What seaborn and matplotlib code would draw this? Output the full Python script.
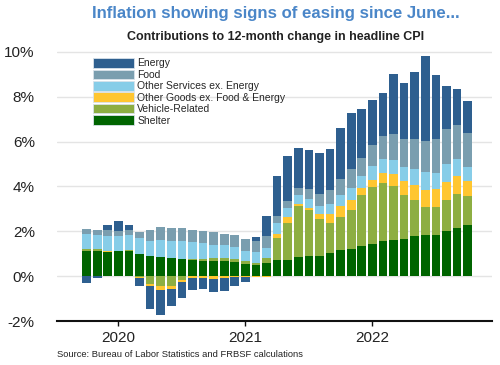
import numpy as np
import pandas as pd
import seaborn as sns
import matplotlib.pyplot as plt
from matplotlib.patches import Patch
from matplotlib.ticker import FuncFormatter

# Monthly contributions (percentage points), Oct 2019 - Oct 2022
months = pd.date_range('2019-10-01', '2022-10-01', freq='MS').strftime('%Y-%m').tolist()

shelter = [1.12, 1.12, 1.07, 1.10, 1.10, 1.00, 0.88, 0.85, 0.82, 0.77, 0.74, 0.67, 0.67,
           0.67, 0.63, 0.55, 0.51, 0.58, 0.70, 0.73, 0.85, 0.92, 0.92, 1.04, 1.15, 1.23,
           1.36, 1.44, 1.55, 1.62, 1.67, 1.77, 1.82, 1.85, 2.01, 2.16, 2.26]
vehicle = [0.09, 0.07, 0.01, 0.03, 0.06, -0.04, -0.34, -0.46, -0.43, -0.19, 0.04, 0.09, 0.14,
           0.15, 0.15, 0.12, 0.09, 0.24, 0.98, 1.64, 2.29, 2.01, 1.61, 1.35, 1.49, 1.70,
           2.26, 2.53, 2.60, 2.38, 1.93, 1.61, 1.26, 1.24, 1.40, 1.52, 1.32]
other_goods = [0.00, 0.00, 0.04, 0.01, 0.00, -0.03, -0.12, -0.15, -0.12, -0.09, -0.10, -0.09, -0.12,
               -0.08, -0.05, -0.04, -0.04, -0.02, 0.18, 0.27, 0.09, 0.10, 0.22, 0.39, 0.48, 0.45,
               0.32, 0.33, 0.45, 0.57, 0.63, 0.67, 0.77, 0.79, 0.79, 0.77, 0.65]
other_services = [0.65, 0.64, 0.67, 0.67, 0.68, 0.70, 0.71, 0.77, 0.77, 0.79, 0.74, 0.70, 0.60,
                  0.55, 0.52, 0.45, 0.48, 0.45, 0.51, 0.39, 0.37, 0.42, 0.40, 0.42, 0.48, 0.54,
                  0.52, 0.60, 0.61, 0.63, 0.64, 0.71, 0.79, 0.73, 0.79, 0.79, 0.65]
food = [0.25, 0.25, 0.25, 0.22, 0.24, 0.27, 0.49, 0.57, 0.55, 0.58, 0.56, 0.55, 0.55,
        0.52, 0.55, 0.52, 0.51, 0.51, 0.33, 0.31, 0.34, 0.45, 0.52, 0.63, 0.73, 0.85,
        0.83, 0.94, 1.04, 1.16, 1.26, 1.34, 1.38, 1.49, 1.56, 1.52, 1.50]
energy = [-0.31, -0.06, 0.25, 0.43, 0.19, -0.36, -1.01, -1.12, -0.77, -0.68, -0.52, -0.50, -0.57,
          -0.57, -0.37, -0.20, 0.15, 0.91, 1.76, 2.02, 1.77, 1.74, 1.83, 1.83, 2.26, 2.51,
          2.16, 2.01, 1.93, 2.66, 2.50, 3.01, 3.81, 2.87, 1.95, 1.59, 1.41]

year_labels = ['2020', '2021', '2022']
year_months = ['2020-01', '2021-01', '2022-01']

df = pd.DataFrame({'month': months, 'Shelter': shelter, 'Vehicle-Related': vehicle,
                   'Other Goods ex. Food & Energy': other_goods,
                   'Other Services ex. Energy': other_services,
                   'Food': food, 'Energy': energy})

# stacking order bottom -> top
layers = [('Shelter', '#006400'),
          ('Vehicle-Related', '#8DAE42'),
          ('Other Goods ex. Food & Energy', '#FFC630'),
          ('Other Services ex. Energy', '#87CDE8'),
          ('Food', '#7A9EAF'),
          ('Energy', '#2E5F8F')]

sns.set_theme(style='white')
plt.rcParams['font.family'] = ['Liberation Sans', 'DejaVu Sans']

fig = plt.figure(figsize=(5, 3.65), dpi=100)
ax = fig.add_axes([0.114, 0.1205, 0.87, 0.7465])

pos = np.zeros(len(df))
neg = np.zeros(len(df))
for name, col in layers:
    vals = df[name].to_numpy()
    base = np.where(vals >= 0, pos, neg)
    sns.barplot(data=df, x='month', y=name, order=months, bottom=base, color=col,
                saturation=1, width=0.82, errorbar=None, linewidth=0, ax=ax)
    pos += np.clip(vals, 0, None)
    neg += np.clip(vals, None, 0)

ax.set_xlim(-2.8, 38.3)
ax.set_ylim(-2, 10.15)
ax.set_yticks([-2, 0, 2, 4, 6, 8, 10])
ax.yaxis.set_major_formatter(FuncFormatter(lambda v, _: f'{int(v)}%'))
ax.set_xticks([months.index(m) for m in year_months])
ax.set_xticklabels(year_labels)
ax.set_xlabel('')
ax.set_ylabel('')

ax.yaxis.grid(True, color='#e4e4e4', linewidth=1)
ax.set_axisbelow(True)
for s in ['left', 'top', 'right']:
    ax.spines[s].set_visible(False)
ax.spines['bottom'].set_color('#111111')
ax.spines['bottom'].set_linewidth(1.5)
ax.tick_params(axis='y', left=False, labelsize=11, pad=10, colors='#222222')
ax.tick_params(axis='x', bottom=True, length=3.5, width=1, color='#111111',
               labelsize=11, pad=4, labelcolor='#222222')

handles = [Patch(facecolor=c, edgecolor='#d8e2ea', linewidth=0.6, label=n) for n, c in layers[::-1]]
ax.legend(handles=handles, loc='upper left', bbox_to_anchor=(0.083, 0.965), frameon=False,
          fontsize=7.5, handlelength=3.9, handleheight=1.05, labelspacing=0.1,
          handletextpad=0.35, borderpad=0, borderaxespad=0)

fig.text(0.552, 0.962, 'Inflation showing signs of easing since June...', ha='center', va='center',
         fontsize=12.1, fontweight='bold', color='#4A86C8')
fig.text(0.552, 0.899, 'Contributions to 12-month change in headline CPI', ha='center', va='center',
         fontsize=9, fontweight='bold', color='#222222')
fig.text(0.114, 0.030, 'Source: Bureau of Labor Statistics and FRBSF calculations', ha='left',
         va='center', fontsize=6.75, color='#222222')

plt.savefig('out.png', dpi=100)
